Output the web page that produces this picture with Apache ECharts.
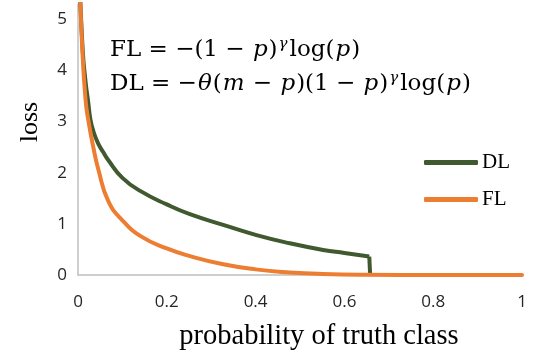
<!DOCTYPE html>
<html>
<head>
<meta charset="utf-8">
<script src="https://cdn.jsdelivr.net/npm/echarts@6/dist/echarts.min.js"></script>
<style>
  html, body { margin: 0; padding: 0; background: #fff; }
  #chart { width: 544px; height: 362px; }
</style>
</head>
<body>
<div id="chart"></div>
<script>
// values
var xTicks = [0, 0.2, 0.4, 0.6, 0.8, 1]
var yTicks = [0, 1, 2, 3, 4, 5]

var flP = [0.003, 0.0097, 0.017, 0.023, 0.034, 0.046, 0.068, 0.1, 0.143, 0.2, 0.252, 0.327, 0.4, 0.477, 0.55, 0.65, 0.8, 1]
var flLoss = [5.9, 4.41, 3.43, 3.04, 2.52, 2.06, 1.45, 1.07, 0.75, 0.52, 0.37, 0.21, 0.11, 0.05, 0.02, 0.005, 0, 0]

var dlP = [0.003, 0.0105, 0.017, 0.023, 0.028, 0.035, 0.045, 0.057, 0.068, 0.1, 0.143, 0.2, 0.252, 0.327, 0.402, 0.477, 0.552, 0.6, 0.656]
var dlLoss = [5.9, 4.41, 3.78, 3.38, 3.04, 2.8, 2.58, 2.4, 2.25, 1.9, 1.63, 1.38, 1.19, 0.98, 0.78, 0.62, 0.49, 0.43, 0.36]

// the drop of DL to zero at m
var dropP = [0.656, 0.658]
var dropLoss = [0.36, 0]

function pairs (xs, ys) {
  return xs.map(function (x, i) { return [x, ys[i]] })
}

var chart = echarts.init(document.getElementById('chart'), null, { renderer: 'canvas' })

var green = '#41592e'
var orange = '#ed7d31'
var serif = 'Liberation Serif'
var mathFont = 'DejaVu Serif'
var axisLine = { show: true, lineStyle: { color: '#bfbfbf', width: 1.5 } }
var tickFont = { fontFamily: 'Open Sans', fontSize: 17, color: '#262626' }

// rich styles for the two formulas
var mathRich = {
  n: { fontFamily: mathFont, fontSize: 23, fill: '#000' },
  i: { fontFamily: mathFont, fontSize: 23, fontStyle: 'italic', fill: '#000', padding: [0, 1] },
  s: { fontFamily: mathFont, fontSize: 15, fontStyle: 'italic', fill: '#000', verticalAlign: 'top', padding: [0, 2, 11, 1] }
}

chart.setOption({
  animation: false,
  grid: { left: 78, right: 22, top: 4, bottom: 87 },
  xAxis: {
    type: 'value',
    min: 0,
    max: 1,
    interval: 0.2,
    axisLine: axisLine,
    axisTick: { show: false },
    splitLine: { show: false },
    axisLabel: Object.assign({ margin: 19, formatter: function (v) { return String(+v.toFixed(1)) } }, tickFont)
  },
  yAxis: {
    type: 'value',
    min: 0,
    max: 5.3,
    interval: 1,
    axisLine: axisLine,
    axisTick: { show: false },
    splitLine: { show: false },
    axisLabel: Object.assign({ margin: 11, showMaxLabel: false, formatter: function (v) {
      return yTicks.indexOf(v) >= 0 ? String(v) : ''
    } }, tickFont)
  },
  legend: {
    orient: 'vertical',
    left: 419,
    top: 147,
    itemWidth: 54,
    itemHeight: 5,
    itemGap: 16,
    icon: 'roundRect',
    data: ['DL', 'FL'],
    textStyle: { fontFamily: serif, fontSize: 21, color: '#000', padding: [0, 0, 0, -1] }
  },
  graphic: [
    {
      type: 'text',
      left: 110,
      top: 37,
      style: { text: '{n|FL = −(1 − }{i|p}{n|)}{s|γ}{n|log(}{i|p}{n|)}', rich: mathRich }
    },
    {
      type: 'text',
      left: 110,
      top: 71,
      style: { text: '{n|DL = −}{i|θ}{n|(}{i|m}{n| − }{i|p}{n|)(1 − }{i|p}{n|)}{s|γ}{n|log(}{i|p}{n|)}', rich: mathRich }
    },
    {
      type: 'text',
      x: 30,
      y: 122,
      rotation: Math.PI / 2,
      style: {
        text: 'loss',
        fontFamily: serif,
        fontSize: 26,
        fill: '#000',
        align: 'center',
        verticalAlign: 'middle'
      }
    },
    {
      type: 'text',
      x: 319,
      y: 337,
      style: {
        text: 'probability of truth class',
        fontFamily: serif,
        fontSize: 28.5,
        fill: '#000',
        align: 'center',
        verticalAlign: 'middle'
      }
    }
  ],
  series: [
    {
      name: 'DL',
      type: 'line',
      data: pairs(dlP, dlLoss),
      smooth: true,
      showSymbol: false,
      color: green,
      lineStyle: { color: green, width: 4 }
    },
    {
      name: 'DL',
      type: 'line',
      data: pairs(dropP, dropLoss),
      showSymbol: false,
      color: green,
      lineStyle: { color: green, width: 4 }
    },
    {
      name: 'FL',
      type: 'line',
      data: pairs(flP, flLoss),
      smooth: true,
      showSymbol: false,
      color: orange,
      lineStyle: { color: orange, width: 4, cap: 'round' }
    }
  ]
})
</script>
</body>
</html>
